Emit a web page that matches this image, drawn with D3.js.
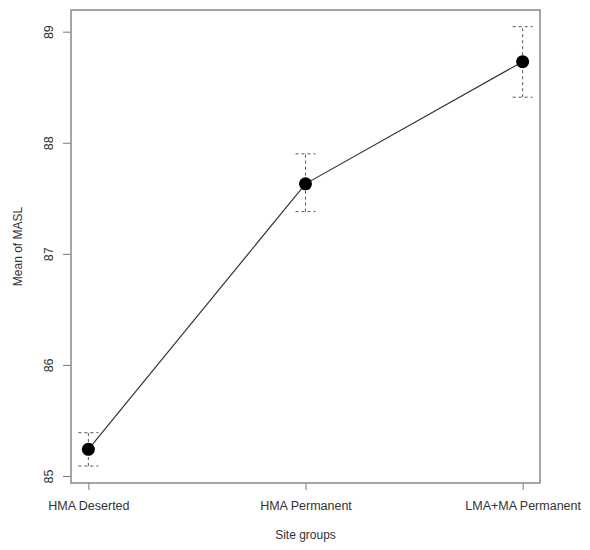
<!DOCTYPE html>
<html><head><meta charset="utf-8">
<script src="https://cdn.jsdelivr.net/npm/d3@7"></script>
<style>body{margin:0;background:#fff}</style>
</head><body>
<script>
const categories = ["HMA Deserted", "HMA Permanent", "LMA+MA Permanent"];
const means = [85.24, 87.63, 88.73];
const lower = [85.09, 87.38, 88.41];
const upper = [85.39, 87.90, 89.045];
const yTicks = [85, 86, 87, 88, 89];

const W = 590, H = 550;
const L = 71, T = 10, R = 540, B = 483;
const svg = d3.select("body").append("svg").attr("width", W).attr("height", H)
  .style("font-family", "Liberation Sans, Arial, sans-serif");

const x = d3.scaleLinear().domain([0.92, 3.08]).range([L, R]);
const y = d3.scaleLinear().domain([84.937, 89.195]).range([B, T]);
const data = categories.map((c, i) => ({c, i: i + 1, m: means[i], lo: lower[i], hi: upper[i]}));

// y axis
const yAxis = d3.axisLeft(y).tickValues(yTicks).tickSize(8).tickFormat(d3.format("d"));
const gy = svg.append("g").attr("transform", `translate(${L},0)`).call(yAxis);
gy.select(".domain").remove();
gy.selectAll(".tick line").attr("stroke", "#777");
gy.selectAll(".tick text").attr("fill", "#333").attr("font-size", 12.5)
  .attr("x", 0).attr("y", 0).attr("dy", 0).attr("text-anchor", "middle")
  .attr("transform", "translate(-18,0) rotate(-90)");

// x axis
const xAxis = d3.axisBottom(x).tickValues([1, 2, 3]).tickSize(7).tickPadding(11).tickFormat(d => categories[d - 1]);
const gx = svg.append("g").attr("transform", `translate(0,${B})`).call(xAxis);
gx.select(".domain").remove();
gx.selectAll(".tick line").attr("stroke", "#777");
gx.selectAll(".tick text").attr("fill", "#333").attr("font-size", 12.5);

// box
svg.append("rect").attr("x", L).attr("y", T).attr("width", R - L).attr("height", B - T)
  .attr("fill", "none").attr("stroke", "#888").attr("stroke-width", 1.5);

// error bars
const eb = svg.append("g").attr("stroke", "#555").attr("stroke-dasharray", "3,3").attr("stroke-width", 1);
eb.selectAll("line.v").data(data).join("line").attr("class", "v")
  .attr("x1", d => x(d.i)).attr("x2", d => x(d.i)).attr("y1", d => y(d.lo)).attr("y2", d => y(d.hi));
eb.selectAll("line.t").data(data).join("line").attr("class", "t")
  .attr("x1", d => x(d.i) - 10).attr("x2", d => x(d.i) + 10).attr("y1", d => y(d.hi)).attr("y2", d => y(d.hi));
eb.selectAll("line.b").data(data).join("line").attr("class", "b")
  .attr("x1", d => x(d.i) - 10).attr("x2", d => x(d.i) + 10).attr("y1", d => y(d.lo)).attr("y2", d => y(d.lo));

// line
svg.append("path").datum(data)
  .attr("d", d3.line().x(d => x(d.i)).y(d => y(d.m)))
  .attr("fill", "none").attr("stroke", "#333").attr("stroke-width", 1.2);

// points
svg.selectAll("circle").data(data).join("circle")
  .attr("cx", d => x(d.i)).attr("cy", d => y(d.m)).attr("r", 6.5).attr("fill", "#000");

// axis titles
svg.append("text").attr("x", (L + R) / 2).attr("y", 539).attr("text-anchor", "middle")
  .attr("font-size", 12).attr("fill", "#333").text("Site groups");
svg.append("text").attr("transform", `translate(22,${(T + B) / 2}) rotate(-90)`).attr("text-anchor", "middle")
  .attr("font-size", 12).attr("fill", "#333").text("Mean of MASL");
</script>
</body></html>
